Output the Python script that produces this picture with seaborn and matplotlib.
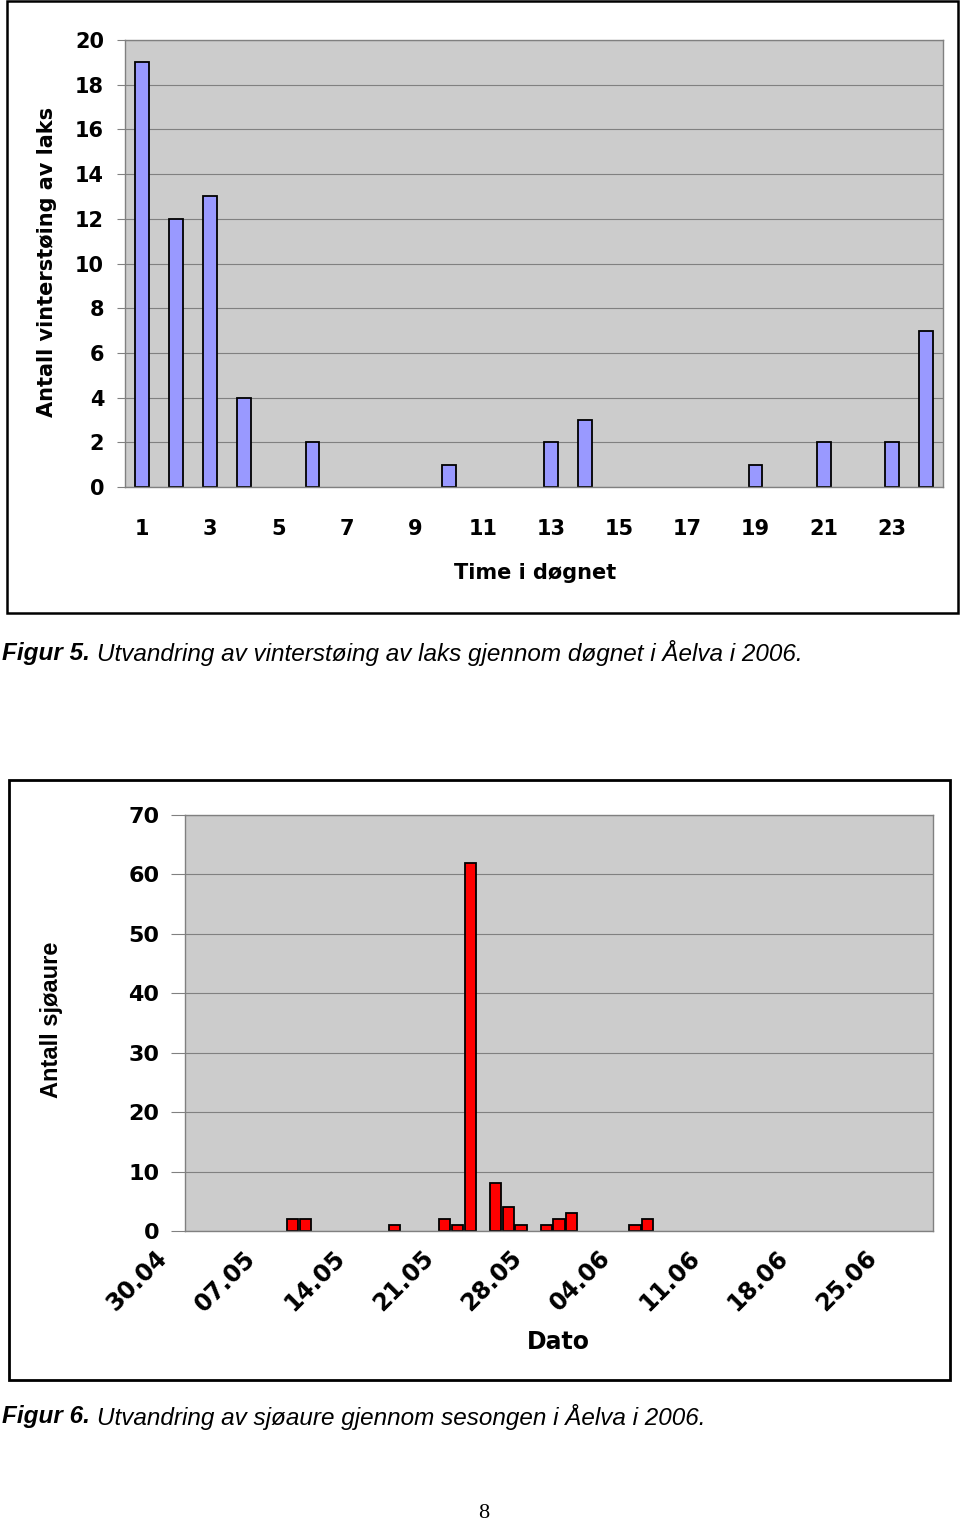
import matplotlib
matplotlib.use("Agg")
import matplotlib.pyplot as plt
import seaborn as sns
import pandas as pd
from matplotlib.patches import Rectangle
from matplotlib.transforms import ScaledTranslation

# Figur 5: utvandring av vinterstøing av laks per time i døgnet
timer = ["1", "2", "3", "4", "5", "6", "7", "8", "9", "10", "11", "12",
         "13", "14", "15", "16", "17", "18", "19", "20", "21", "22", "23", "24"]
laks = [19, 12, 13, 4, 0, 2, 0, 0, 0, 1, 0, 0,
        2, 3, 0, 0, 0, 0, 1, 0, 2, 0, 2, 7]
time_etiketter = ["1", "3", "5", "7", "9", "11", "13", "15", "17", "19", "21", "23"]

# Figur 6: sjøaure per dato (kun dager med fangst)
sjoaure_dato = ["08.05", "09.05", "16.05", "20.05", "21.05", "22.05", "24.05",
                "25.05", "26.05", "28.05", "29.05", "30.05", "04.06", "05.06"]
sjoaure_antall = [2, 2, 1, 2, 1, 62, 8, 4, 1, 1, 2, 3, 1, 2]
alle_datoer = list(pd.date_range("2006-04-30", "2006-06-27").strftime("%d.%m"))
dato_etiketter = ["30.04", "07.05", "14.05", "21.05", "28.05", "04.06", "11.06", "18.06", "25.06"]

sns.set_theme(style="white")
plt.rcParams['font.family'] = ['DejaVu Sans']
plt.rcParams['text.color'] = 'black'
plt.rcParams['xtick.labelcolor'] = 'black'
plt.rcParams['ytick.labelcolor'] = 'black'

W, H = 960, 1524
fig = plt.figure(figsize=(W / 100, H / 100), dpi=100)


def fx(px):
    return px / W


def fy(py):
    return 1 - py / H


def ramme(x0, y0, x1, y1, lw):
    fig.add_artist(Rectangle((fx(x0), fy(y1)), fx(x1) - fx(x0), fy(y0) - fy(y1),
                             transform=fig.transFigure, fill=False,
                             edgecolor="black", lw=lw))


grå = "#808080"

# ---------- Figur 5 ----------
ramme(7, 1, 958, 613, 1.8)
ax1 = fig.add_axes([fx(125), fy(487), fx(943) - fx(125), fy(40) - fy(487)])
df1 = pd.DataFrame({"time": timer, "antall": laks})
sns.barplot(data=df1, x="time", y="antall", order=timer, color="#9999FF",
            saturation=1, edgecolor="black", linewidth=1.3, width=0.4, ax=ax1)
# søyler med verdi 0 skal ikke synes
for p in ax1.patches:
    if p.get_height() == 0:
        p.set_visible(False)
ax1.set_facecolor("#CCCCCC")
ax1.set_xlim(-0.5, 23.5)
ax1.set_ylim(0, 20)
ax1.set_yticks(range(0, 21, 2))
ax1.yaxis.grid(True, color=grå, lw=0.8)
ax1.set_axisbelow(True)
ax1.set_xticks([timer.index(t) for t in time_etiketter])
ax1.set_xticklabels(time_etiketter)
ax1.set_xticks([i - 0.5 for i in range(25)], minor=True)
ax1.tick_params(axis="x", which="major", length=0, pad=23, labelsize=15)
ax1.tick_params(axis="x", which="minor", length=6, color=grå, width=0.8, direction="out")
ax1.tick_params(axis="y", length=6, color=grå, width=0.8, pad=9, labelsize=15, left=True)
for lab in ax1.get_xticklabels() + ax1.get_yticklabels():
    lab.set_fontweight("bold")
for s in ax1.spines.values():
    s.set_color(grå)
    s.set_linewidth(1)
ax1.set_xlabel("")
ax1.set_ylabel("")
fig.text(fx(535), fy(573), "Time i døgnet", ha="center", va="center",
         fontsize=15, fontweight="bold")
fig.text(fx(47), fy(262), "Antall vinterstøing av laks", ha="center", va="center",
         rotation=90, fontsize=15, fontweight="bold")

# ---------- Figur 6 ----------
ramme(9, 780, 950, 1380, 2)
ax2 = fig.add_axes([fx(185), fy(1231), fx(933) - fx(185), fy(815) - fy(1231)])
df2 = pd.DataFrame({"dato": sjoaure_dato, "antall": sjoaure_antall})
sns.barplot(data=df2, x="dato", y="antall", order=alle_datoer, color="#FF0000",
            saturation=1, edgecolor="black", linewidth=1.3, width=0.88, ax=ax2)
ax2.set_facecolor("#CCCCCC")
ax2.set_xlim(-0.5, len(alle_datoer) - 0.5)
ax2.set_ylim(0, 70)
ax2.set_yticks(range(0, 71, 10))
ax2.yaxis.grid(True, color=grå, lw=0.8)
ax2.set_axisbelow(True)
ax2.set_xticks([alle_datoer.index(d) for d in dato_etiketter])
ax2.set_xticklabels(dato_etiketter, rotation=45, ha="right", va="center",
                    rotation_mode="anchor")
ax2.set_xticks([alle_datoer.index(d) - 0.5 for d in dato_etiketter], minor=True)
ax2.tick_params(axis="x", which="major", length=0, pad=17, labelsize=17)
ax2.tick_params(axis="x", which="minor", length=10, color=grå, width=0.8, direction="out")
ax2.tick_params(axis="y", length=10, color=grå, width=0.8, pad=8.5, labelsize=16, left=True)
for lab in ax2.get_xticklabels():
    lab.set_fontweight("bold")
    lab.set_transform(lab.get_transform() + ScaledTranslation(-0.28, 0, fig.dpi_scale_trans))
for lab in ax2.get_yticklabels():
    lab.set_fontweight("bold")
for s in ax2.spines.values():
    s.set_color(grå)
    s.set_linewidth(1)
ax2.set_xlabel("")
ax2.set_ylabel("")
fig.text(fx(558), fy(1342), "Dato", ha="center", va="center",
         fontsize=17, fontweight="bold")
fig.text(fx(52), fy(1020), "Antall sjøaure", ha="center", va="center",
         rotation=90, fontsize=17, fontweight="bold", family="Liberation Sans")

# ---------- Figurtekster ----------
for y, nr, tekst in [(653, "Figur 5.", "Utvandring av vinterstøing av laks gjennom døgnet i Åelva i 2006."),
                     (1417, "Figur 6.", "Utvandring av sjøaure gjennom sesongen i Åelva i 2006.")]:
    fig.text(fx(2), fy(y), nr, ha="left", va="center", fontsize=17.5,
             fontweight="bold", style="italic", family="Liberation Sans")
    fig.text(fx(97), fy(y), tekst, ha="left", va="center", fontsize=17.5,
             style="italic", family="Liberation Sans")

fig.text(fx(484), fy(1513), "8", ha="center", va="center", fontsize=16,
         family="Liberation Serif")

fig.savefig("out.png", dpi=100)
